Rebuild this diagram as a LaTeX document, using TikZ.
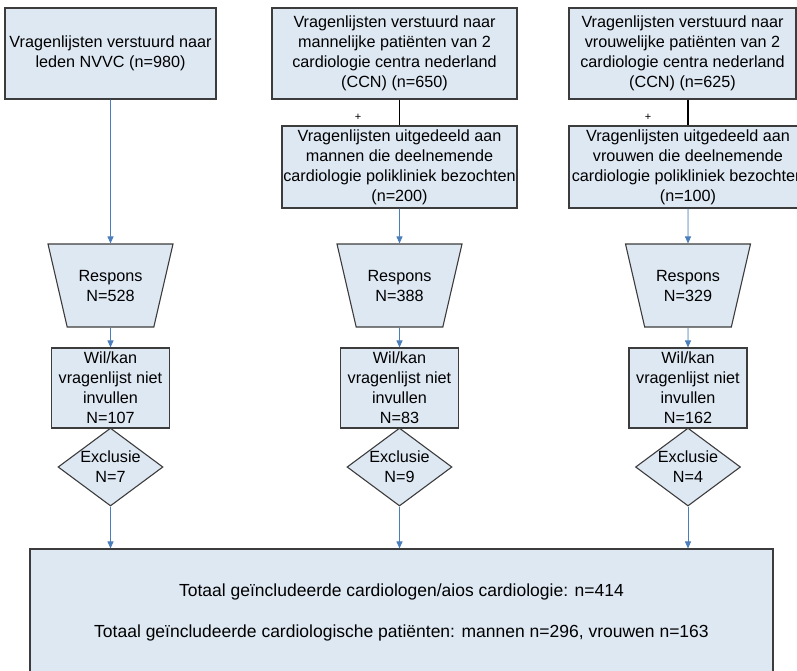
\documentclass[tikz,border=0pt]{standalone}
\usepackage{fontspec}
\setmainfont{Liberation Sans}
\usetikzlibrary{shapes.geometric,arrows.meta}
\definecolor{boxfill}{RGB}{222,232,243}
\definecolor{boxline}{RGB}{60,60,60}
\definecolor{flowblue}{RGB}{74,126,187}
\begin{document}
\begin{tikzpicture}[x=1pt, y=-1pt, >={Triangle[length=7pt,width=6pt]},
    box/.style={draw=boxline, fill=boxfill, line width=1.1pt, align=center, inner sep=0pt, font=\fontsize{16.2pt}{20pt}\selectfont},
    respons/.style={box, trapezium, shape border rotate=180, trapezium stretches body=true, trapezium left angle=76.4, trapezium right angle=76.4, inner ysep=24pt, minimum width=125, minimum height=83},
    wilkan/.style={box, minimum width=118, minimum height=80},
    exclusie/.style={box, diamond, inner sep=-12pt, minimum width=105, minimum height=78},
    plus/.style={font=\fontsize{11pt}{12pt}\selectfont, inner sep=0pt},
    flow/.style={->, draw=flowblue, fill=flowblue, line width=0.9pt},
    link/.style={black, line width=1.1pt}]
    \useasboundingbox (0,0) rectangle (797,670);
    \clip (0,0) rectangle (797,670);
    \node[box, minimum width=211, minimum height=91] (nvvc) at (110.5,53.5) {Vragenlijsten verstuurd naar\\leden NVVC (n=980)};
    \node[box, minimum width=245, minimum height=91] (ccnMen) at (394.5,53.5) {Vragenlijsten verstuurd naar\\mannelijke patiënten van 2\\cardiologie centra nederland\\(CCN) (n=650)};
    \node[box, minimum width=227, minimum height=91] (ccnWomen) at (682.5,53.5) {Vragenlijsten verstuurd naar\\vrouwelijke patiënten van 2\\cardiologie centra nederland\\(CCN) (n=625)};
    \node[box, minimum width=235, minimum height=82] (poliMen) at (399.5,167) {Vragenlijsten uitgedeeld aan\\mannen die deelnemende\\cardiologie polikliniek bezochten\\(n=200)};
    \node[box, minimum width=238, minimum height=82] (poliWomen) at (688,167) {Vragenlijsten uitgedeeld aan\\vrouwen die deelnemende\\cardiologie polikliniek bezochten\\(n=100)};
    \node[plus] (plusMen) at (358,117) {+};
    \node[plus] (plusWomen) at (648,117) {+};
    \node[respons] (resNvvc) at (110.5,285.5) {Respons\\N=528};
    \node[respons] (resMen) at (399.5,285.5) {Respons\\N=388};
    \node[respons] (resWomen) at (688,285.5) {Respons\\N=329};
    \node[wilkan] (wilNvvc) at (110.5,388) {Wil/kan\\vragenlijst niet\\invullen\\N=107};
    \node[wilkan] (wilMen) at (399.5,388) {Wil/kan\\vragenlijst niet\\invullen\\N=83};
    \node[wilkan] (wilWomen) at (688,388) {Wil/kan\\vragenlijst niet\\invullen\\N=162};
    \node[exclusie] (exNvvc) at (110.5,467) {Exclusie\\N=7};
    \node[exclusie] (exMen) at (399.5,467) {Exclusie\\N=9};
    \node[exclusie] (exWomen) at (688,467) {Exclusie\\N=4};
    \node[box, minimum width=743, minimum height=127, font=\fontsize{17.5pt}{20pt}\selectfont] (total) at (401.5,612.5) {Totaal geïncludeerde cardiologen/aios cardiologie: n=414\\[21pt]Totaal geïncludeerde cardiologische patiënten: mannen n=296, vrouwen n=163};
    \draw[link] (poliMen.north |- ccnMen.south) -- (poliMen.north);
    \draw[link] (poliWomen.north |- ccnWomen.south) -- (poliWomen.north);
    \draw[flow] (nvvc.south) -- (resNvvc.north);
    \draw[flow] (poliMen.south) -- (resMen.north);
    \draw[flow] (poliWomen.south) -- (resWomen.north);
    \draw[flow] (resNvvc.south) -- (wilNvvc.north);
    \draw[flow] (resMen.south) -- (wilMen.north);
    \draw[flow] (resWomen.south) -- (wilWomen.north);
    \draw[flow] (exNvvc.south) -- (exNvvc.south |- total.north);
    \draw[flow] (exMen.south) -- (exMen.south |- total.north);
    \draw[flow] (exWomen.south) -- (exWomen.south |- total.north);
\end{tikzpicture}
\end{document}
